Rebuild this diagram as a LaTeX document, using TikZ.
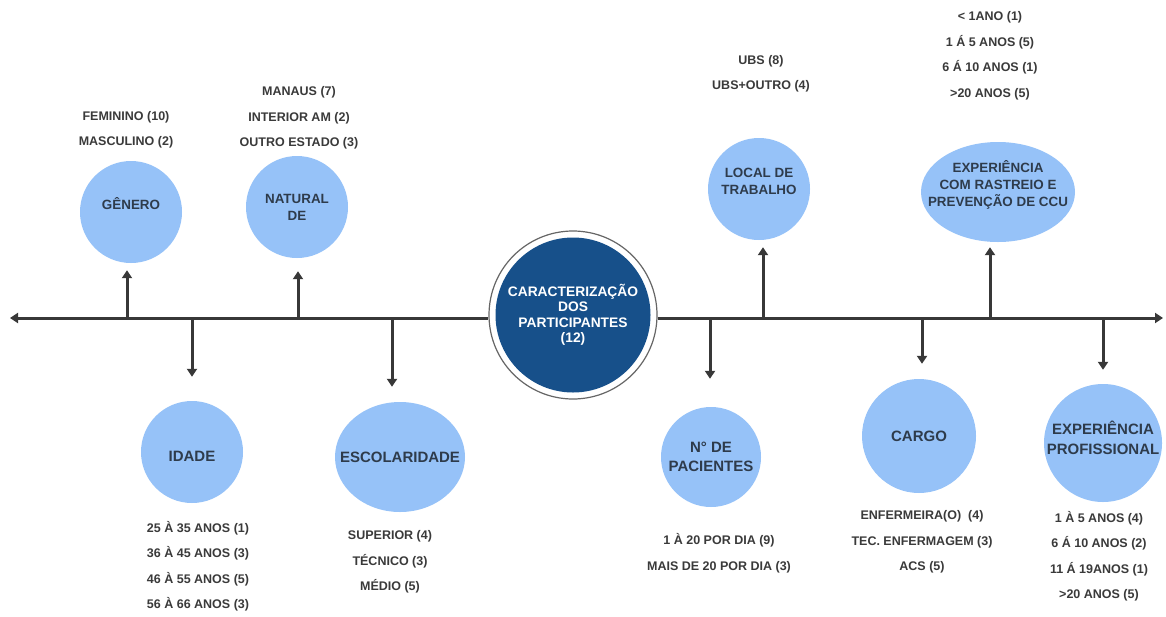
\documentclass[tikz,border=0pt]{standalone}
\usepackage{fontspec}
\setmainfont{Liberation Sans}
\usetikzlibrary{arrows.meta,shapes.geometric}
\definecolor{bubblue}{HTML}{96C2F8}
\definecolor{navy}{HTML}{17508A}
\definecolor{datagray}{HTML}{3A3A3A}
\definecolor{labdark}{HTML}{2E3B4B}
\definecolor{linegray}{HTML}{383838}
\begin{document}
\begin{tikzpicture}[x=1pt,y=-1pt,
  bub/.style={circle,fill=bubblue,inner sep=0pt,minimum size=#1},
  bubell/.style 2 args={ellipse,fill=bubblue,inner sep=0pt,minimum width=#1,minimum height=#2},
  toplab/.style={text=labdark,font=\bfseries\fontsize{13.4}{17}\selectfont,align=center,inner sep=0pt},
  botlab/.style={text=labdark,font=\bfseries\fontsize{15}{19.5}\selectfont,align=center,inner sep=0pt},
  data/.style={text=datagray,font=\bfseries\fontsize{12.5}{25.5}\selectfont,align=center,inner sep=0pt},
  arr/.style={draw=linegray,line width=3pt,-{Triangle[length=8pt,width=10pt]}},
]
\fill[white] (0,0) rectangle (1166,616);
\useasboundingbox (0,0) rectangle (1166,616);

% centre
\node[circle,minimum size=168pt,draw=gray!80!black,line width=1.2pt,fill=white,inner sep=0pt] (C) at (573,315) {};
\node[circle,minimum size=155pt,fill=navy,inner sep=0pt] (Ci) at (C.center) {};
\node[text=white,font=\bfseries\fontsize{13.8}{15.5}\selectfont,align=center,inner sep=0pt] (Ct) at (C.center)
  {CARACTERIZAÇÃO\\DOS\\PARTICIPANTES\\(12)};

% axis
\coordinate (Lend) at (10,318);
\coordinate (Rend) at (1163,318);
\draw[arr] (C.west |- Lend) -- (Lend);
\draw[arr] (C.east |- Rend) -- (Rend);

% axis points
\coordinate (tG) at (127,318);
\coordinate (tI) at (192,318);
\coordinate (tN) at (298,318);
\coordinate (tE) at (392,318);
\coordinate (tP) at (710,318);
\coordinate (tL) at (763,318);
\coordinate (tC) at (922,318);
\coordinate (tX) at (990,318);
\coordinate (tF) at (1103,318);

% bubbles
\node[bub=102pt] (G) at (131,212) {};
\node[bub=102pt] (N) at (297,207) {};
\node[bub=102pt] (I) at (192,452) {};
\node[bubell={130pt}{110pt}] (E) at (400,457) {};
\node[bub=100pt] (P) at (711,457) {};
\node[bub=102pt] (L) at (759,189) {};
\node[bub=114pt] (K) at (919,436) {};
\node[bubell={154pt}{100pt}] (X) at (998,192) {};
\node[bub=118pt] (F) at (1103,443) {};

% bubble labels
\node[toplab] (Gt) at ([yshift=8pt]G.center) {GÊNERO};
\node[toplab] (Nt) at (N.center) {NATURAL\\DE};
\node[toplab] (Lt) at ([yshift=8pt]L.center) {LOCAL DE\\TRABALHO};
\node[toplab] (Xt) at ([yshift=7pt]X.center) {EXPERIÊNCIA\\COM RASTREIO E\\PREVENÇÃO DE CCU};
\node[botlab] (It) at ([yshift=-4pt]I.center) {IDADE};
\node[botlab] (Et) at (E.center) {ESCOLARIDADE};
\node[botlab] (Pt) at (P.center) {N° DE\\PACIENTES};
\node[botlab] (Kt) at (K.center) {CARGO};
\node[botlab] (Ft) at ([yshift=5pt]F.center) {EXPERIÊNCIA\\PROFISSIONAL};

% connectors
\draw[arr,shorten >=7pt] (tG) -- (tG |- G.south);
\draw[arr,shorten >=13pt] (tN) -- (tN |- N.south);
\draw[arr,shorten >=7pt] (tL) -- (tL |- L.south);
\draw[arr,shorten >=5pt] (tX) -- (tX |- X.south);
\draw[arr,shorten >=24pt] (tI) -- (tI |- I.north);
\draw[arr,shorten >=15pt] (tE) -- (tE |- E.north);
\draw[arr,shorten >=28pt] (tP) -- (tP |- P.north);
\draw[arr,shorten >=15pt] (tC) -- (tC |- K.north);
\draw[arr,shorten >=14pt] (tF) -- (tF |- F.north);

% data
\node[data] (Gd) at (126,130) {FEMININO (10)\\MASCULINO (2)};
\node[data] (Nd) at (299,118) {MANAUS (7)\\INTERIOR AM (2)\\OUTRO ESTADO (3)};
\node[data] (Ld) at (761,74) {UBS (8)\\UBS+OUTRO (4)};
\node[data] (Xd) at (990,56) {< 1ANO (1)\\1 Á 5 ANOS (5)\\6 Á 10 ANOS (1)\\>20 ANOS (5)};
\node[data] (Id) at (198,566) {25 À 35 ANOS (1)\\36 À 45 ANOS (3)\\46 À 55 ANOS (5)\\56 À 66 ANOS (3)};
\node[data] (Ed) at (390,562) {SUPERIOR (4)\\TÉCNICO (3)\\MÉDIO (5)};
\node[data] (Pd) at (719,553) {1 À 20 POR DIA (9)\\MAIS DE 20 POR DIA (3)};
\node[data] (Kd) at (922,542) {ENFERMEIRA(O)\ \ (4)\\TEC. ENFERMAGEM (3)\\ACS (5)};
\node[data] (Fd) at (1099,556) {1 À 5 ANOS (4)\\6 Á 10 ANOS (2)\\11 Á 19ANOS (1)\\>20 ANOS (5)};
\end{tikzpicture}
\end{document}
